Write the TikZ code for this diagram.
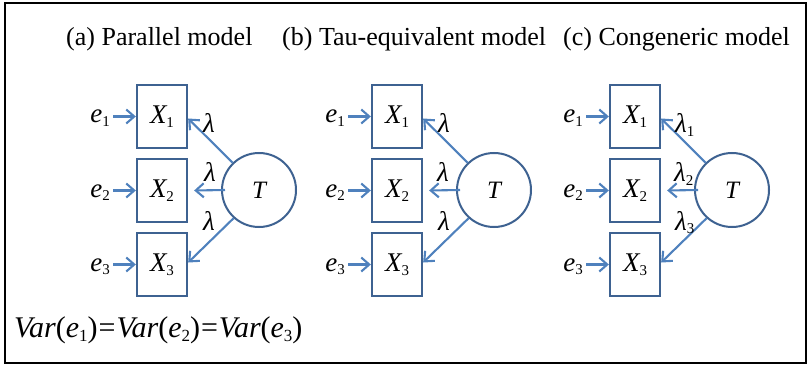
\documentclass[tikz,border=0pt]{standalone}
\usepackage{fontspec}
\newfontfamily\tnr{Liberation Serif}
\usetikzlibrary{arrows.meta}
\definecolor{arrowblue}{RGB}{79,129,189}
\definecolor{boxblue}{RGB}{62,98,145}
\newcommand{\sbx}[1]{\raisebox{-0.3ex}{\fontsize{15}{15}\selectfont\tnr #1}}
\newcommand{\sbq}[1]{\raisebox{-0.3ex}{\fontsize{17}{17}\selectfont\tnr #1}}
\newcommand{\tiv}[1]{{\tnr\itshape #1}}
\begin{document}
\begin{tikzpicture}[x=1pt,y=-1pt,
  obs/.style={draw=boxblue, line width=2.3pt, minimum width=50pt, minimum height=63pt, inner sep=0pt, font=\fontsize{27}{27}\selectfont},
  lat/.style={draw=boxblue, line width=2pt, circle, minimum size=74pt, inner sep=0pt, font=\fontsize{25}{25}\selectfont},
  arr/.style={draw=arrowblue, line width=2.1pt, -{Straight Barb[length=8pt,width=14pt,line width=2.1pt]}},
  lab/.style={font=\fontsize{27}{27}\selectfont, inner sep=0pt},
  ttl/.style={font=\fontsize{26}{26}\selectfont, inner sep=0pt, anchor=base west}]
\useasboundingbox (0,0) rectangle (810,366);
\draw[line width=2pt] (5,3) rectangle (806,363);
\node[ttl] (ta) at (66,46) {\tnr (a) Parallel model};
\node[ttl] (tb) at (282,46) {\tnr (b) Tau-equivalent model};
\node[ttl] (tc) at (563,46) {\tnr (c) Congeneric model};
\foreach \ox/\p in {0/a,235/b,473/c}{
  \begin{scope}[shift={(\ox,0)}]
    \node[obs] (X1\p) at (162,116.5) {\tiv{X}\sbx{1}};
    \node[obs] (X2\p) at (162,190.5) {\tiv{X}\sbx{2}};
    \node[obs] (X3\p) at (162,264.5) {\tiv{X}\sbx{3}};
    \node[lat] (T\p) at (259,190) {\tiv{T}};
    \node[lab, anchor=base east] (e1\p) at (110,123) {\tiv{e}\sbx{1}};
    \node[lab, anchor=base east] (e2\p) at (110,197) {\tiv{e}\sbx{2}};
    \node[lab, anchor=base east] (e3\p) at (110,271) {\tiv{e}\sbx{3}};
    \draw[arr] ([xshift=3pt]e1\p.east |- X1\p.west) -- (X1\p.west);
    \draw[arr] ([xshift=3pt]e2\p.east |- X2\p.west) -- (X2\p.west);
    \draw[arr] ([xshift=3pt]e3\p.east |- X3\p.west) -- (X3\p.west);
    \draw[arr] (T\p.134) -- ([yshift=-2pt]X1\p.east);
    \draw[arr] ([xshift=4pt]T\p.west) -- ([xshift=6pt]X2\p.east);
    \draw[arr] (T\p.228) -- ([yshift=2pt]X3\p.east);
  \end{scope}
}
\node[lab, anchor=base west] (l1a) at (203,133) {\tiv{λ}};
\node[lab, anchor=base west] (l2a) at (204,182) {\tiv{λ}};
\node[lab, anchor=base west] (l3a) at (203,230) {\tiv{λ}};
\node[lab, anchor=base west] (l1b) at (438,133) {\tiv{λ}};
\node[lab, anchor=base west] (l2b) at (437,182) {\tiv{λ}};
\node[lab, anchor=base west] (l3b) at (438,230) {\tiv{λ}};
\node[lab, anchor=base west] (l1c) at (675,133) {\tiv{λ}\sbx{1}};
\node[lab, anchor=base west] (l2c) at (674,182) {\tiv{λ}\sbx{2}};
\node[lab, anchor=base west] (l3c) at (675,230) {\tiv{λ}\sbx{3}};
\node[lab, anchor=base west, font=\fontsize{30}{30}\selectfont] (eq) at (14,337) {\tnr\tiv{Var}(\tiv{e}\sbq{1})\kern1pt=\kern1pt\tiv{Var}(\tiv{e}\sbq{2})\kern1pt=\kern1pt\tiv{Var}(\tiv{e}\sbq{3})};
\end{tikzpicture}
\end{document}
